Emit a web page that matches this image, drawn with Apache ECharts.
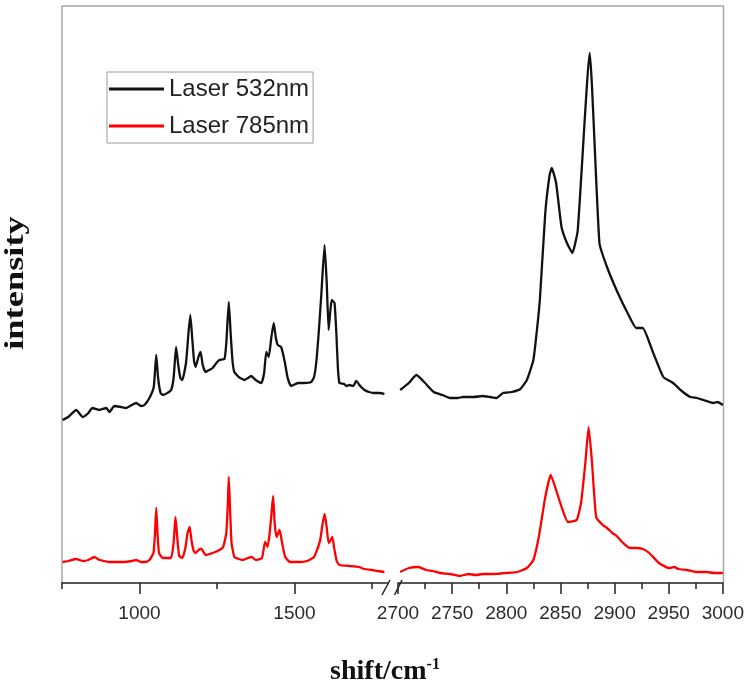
<!DOCTYPE html>
<html>
<head>
<meta charset="utf-8">
<script src="https://cdn.jsdelivr.net/npm/echarts@6/dist/echarts.min.js"></script>
<style>
html, body { margin: 0; padding: 0; background: #fff; }
#main { width: 747px; height: 688px; }
</style>
</head>
<body>
<div id="main"></div>
<script>
// Raman spectra, the shift axis is broken between 1800 and 2700 cm-1
var seriesNames = ["Laser 532nm", "Laser 785nm"];
var lowRange = [750, 1800];
var highRange = [2700, 3000];
var lowMajorTicks = [1000, 1500];
var lowMinorTicks = [750, 1250, 1750];
var highTickStep = 50;
var intensityRange = [0, 577];

// [shift, intensity] pairs
var laser532Low = [
  [752, 163], [770, 166], [796, 173], [817, 166], [835, 170], [848, 175], [870, 173], [893, 175],
  [903, 171], [919, 177], [940, 176], [957, 175], [975, 178], [989, 180], [1005, 177], [1016, 178],
  [1032, 185], [1046, 196], [1054, 228], [1060, 205], [1068, 190], [1075, 188], [1090, 190], [1102, 193],
  [1110, 205], [1118, 236], [1125, 218], [1132, 205], [1138, 203], [1150, 220], [1158, 250], [1164, 268],
  [1170, 245], [1176, 222], [1181, 216], [1190, 226], [1197, 231], [1204, 218], [1213, 211], [1225, 213],
  [1236, 215], [1248, 220], [1258, 223], [1274, 224], [1280, 240], [1288, 281], [1294, 250], [1300, 222],
  [1306, 211], [1320, 206], [1339, 203], [1350, 205], [1360, 207], [1375, 203], [1393, 200], [1402, 210],
  [1409, 231], [1417, 226], [1425, 245], [1433, 260], [1440, 245], [1446, 238], [1457, 236], [1468, 222],
  [1478, 205], [1489, 197], [1511, 200], [1530, 200], [1554, 201], [1563, 206], [1570, 220], [1578, 250],
  [1586, 286], [1597, 338], [1604, 300], [1610, 253], [1615, 270], [1620, 283], [1629, 280], [1635, 250],
  [1640, 215], [1645, 200], [1660, 199], [1668, 197], [1677, 198], [1690, 197], [1699, 202], [1712, 197],
  [1726, 193], [1740, 191], [1758, 190], [1775, 190], [1790, 189]
];
var laser532High = [
  [2702, 193], [2710, 200], [2717, 208], [2725, 200], [2733, 191], [2741, 188], [2748, 185], [2755, 185],
  [2760, 186], [2770, 186], [2778, 187], [2785, 186], [2791, 185], [2797, 190], [2805, 191], [2813, 194],
  [2819, 203], [2825, 223], [2828, 250], [2831, 283], [2836, 370], [2840, 408], [2842, 415], [2846, 400],
  [2851, 356], [2856, 340], [2861, 330], [2866, 353], [2877, 530], [2886, 340], [2893, 316], [2903, 290],
  [2912, 270], [2920, 255], [2926, 255], [2935, 232], [2945, 206], [2954, 200], [2962, 192], [2970, 186],
  [2976, 185], [2982, 183], [2991, 180], [2995, 181], [3000, 178]
];
var laser785Low = [
  [752, 21], [770, 22], [796, 24], [817, 22], [835, 23], [855, 26], [865, 24], [872, 23],
  [903, 21], [930, 21], [946, 21], [975, 22], [989, 23], [1005, 21], [1020, 21], [1032, 23],
  [1045, 30], [1050, 50], [1054, 75], [1058, 50], [1063, 30], [1075, 25], [1090, 25], [1102, 25],
  [1110, 40], [1116, 66], [1122, 45], [1128, 27], [1138, 25], [1148, 35], [1155, 50], [1162, 56],
  [1168, 42], [1175, 32], [1181, 30], [1195, 34], [1200, 34], [1213, 28], [1236, 30], [1258, 33],
  [1270, 36], [1280, 50], [1285, 80], [1288, 106], [1292, 75], [1297, 40], [1306, 26], [1320, 24],
  [1333, 23], [1350, 25], [1362, 26], [1375, 23], [1395, 25], [1405, 41], [1413, 36], [1420, 50],
  [1426, 70], [1431, 87], [1436, 60], [1442, 46], [1452, 53], [1460, 40], [1470, 26], [1486, 21],
  [1520, 21], [1540, 22], [1563, 26], [1575, 35], [1583, 43], [1590, 58], [1597, 69], [1603, 58],
  [1610, 40], [1615, 42], [1622, 46], [1628, 35], [1636, 22], [1645, 18], [1680, 17], [1708, 16],
  [1725, 14], [1750, 13], [1768, 12], [1790, 11]
];
var laser785High = [
  [2702, 11], [2710, 15], [2719, 16], [2726, 13], [2732, 12], [2739, 10], [2748, 9], [2757, 7],
  [2765, 9], [2772, 8], [2779, 9], [2788, 9], [2800, 10], [2810, 11], [2819, 15], [2825, 23],
  [2830, 46], [2836, 86], [2841, 108], [2846, 93], [2852, 73], [2857, 61], [2865, 63], [2869, 80],
  [2873, 120], [2876, 156], [2879, 123], [2883, 66], [2889, 58], [2893, 55], [2898, 50], [2902, 47],
  [2907, 41], [2914, 35], [2920, 35], [2926, 34], [2932, 30], [2941, 20], [2950, 15], [2955, 16],
  [2959, 14], [2967, 13], [2975, 11], [2985, 11], [2992, 10], [3000, 10]
];

var colors = ["#111111", "#ff0000"];
var labelFont = "Liberation Sans, Arial, sans-serif";
var titleFont = "Liberation Serif, Times New Roman, serif";

var myChart = echarts.init(document.getElementById("main"));

function lineSeries(name, data, color, axisIndex) {
  return {
    name: name,
    type: "line",
    xAxisIndex: axisIndex,
    yAxisIndex: axisIndex,
    data: data,
    symbol: "none",
    smooth: 0.15,
    silent: true,
    lineStyle: { color: color, width: 2.3 },
    itemStyle: { color: color },
  };
}

function plainLabel(v) {
  return String(v);
}

var option = {
  animation: false,
  backgroundColor: "#fff",
  grid: [
    { left: 62, top: 6, width: 325.5, height: 577 },
    { left: 398, top: 6, width: 325, height: 577 },
  ],
  legend: {
    data: seriesNames,
    orient: "vertical",
    left: 107,
    top: 72,
    padding: [4, 4, 4, 2],
    itemGap: 11,
    itemWidth: 55,
    itemHeight: 3,
    icon: "rect",
    borderColor: "#9a9a9a",
    borderWidth: 1,
    textStyle: { fontSize: 24, lineHeight: 26, color: "#222", fontFamily: labelFont },
  },
  xAxis: [
    {
      gridIndex: 0,
      type: "value",
      position: "bottom",
      min: lowRange[0],
      max: lowRange[1],
      axisLine: { lineStyle: { color: "#222", width: 1.5 } },
      axisTick: { customValues: lowMajorTicks, length: 11, lineStyle: { color: "#222", width: 1.5 } },
      axisLabel: {
        customValues: lowMajorTicks,
        formatter: plainLabel,
        margin: 21,
        fontSize: 19,
        color: "#2b2b2b",
        fontFamily: labelFont,
      },
      splitLine: { show: false },
    },
    {
      gridIndex: 1,
      type: "value",
      position: "bottom",
      min: highRange[0],
      max: highRange[1],
      interval: highTickStep,
      axisLine: { lineStyle: { color: "#222", width: 1.5 } },
      axisTick: { length: 11, lineStyle: { color: "#222", width: 1.5 } },
      minorTick: { show: true, splitNumber: 2, length: 6, lineStyle: { color: "#222", width: 1.5 } },
      axisLabel: { formatter: plainLabel, margin: 21, fontSize: 19, color: "#2b2b2b", fontFamily: labelFont },
      splitLine: { show: false },
      minorSplitLine: { show: false },
    },
    {
      // short ticks of the low part
      gridIndex: 0,
      type: "value",
      position: "bottom",
      min: lowRange[0],
      max: lowRange[1],
      axisLine: { show: false },
      axisTick: { customValues: lowMinorTicks, length: 6, lineStyle: { color: "#222", width: 1.5 } },
      axisLabel: { show: false },
      splitLine: { show: false },
    },
  ],
  yAxis: [
    { gridIndex: 0, type: "value", min: intensityRange[0], max: intensityRange[1], show: false },
    { gridIndex: 1, type: "value", min: intensityRange[0], max: intensityRange[1], show: false },
  ],
  graphic: [
    {
      type: "polyline",
      silent: true,
      z: 0,
      shape: { points: [[62, 583], [62, 6], [723.5, 6], [723.5, 583]] },
      style: { stroke: "#a6a6a6", lineWidth: 1.5, fill: null },
    },
    // break marks on the shift axis
    { type: "line", silent: true, shape: { x1: 382, y1: 595, x2: 390, y2: 580 }, style: { stroke: "#222", lineWidth: 1.5 } },
    { type: "line", silent: true, shape: { x1: 394.5, y1: 595, x2: 402, y2: 580 }, style: { stroke: "#222", lineWidth: 1.5 } },
    {
      type: "text",
      silent: true,
      x: 16,
      y: 283,
      rotation: Math.PI / 2,
      scaleX: 1.3,
      style: {
        text: "intensity",
        fontSize: 28,
        fontWeight: "bold",
        fontFamily: titleFont,
        fill: "#111",
        align: "center",
        verticalAlign: "middle",
      },
    },
    {
      type: "text",
      silent: true,
      x: 385,
      y: 672,
      style: {
        text: "{a|shift/cm}{b|-1}",
        fill: "#111",
        align: "center",
        verticalAlign: "middle",
        rich: {
          a: { fontSize: 28, fontWeight: "bold", fontFamily: titleFont, lineHeight: 30 },
          b: { fontSize: 16, fontWeight: "bold", fontFamily: titleFont, lineHeight: 16, verticalAlign: "top" },
        },
      },
    },
  ],
  series: [
    lineSeries(seriesNames[0], laser532Low, colors[0], 0),
    lineSeries(seriesNames[0], laser532High, colors[0], 1),
    lineSeries(seriesNames[1], laser785Low, colors[1], 0),
    lineSeries(seriesNames[1], laser785High, colors[1], 1),
  ],
};

myChart.setOption(option);
</script>
</body>
</html>
